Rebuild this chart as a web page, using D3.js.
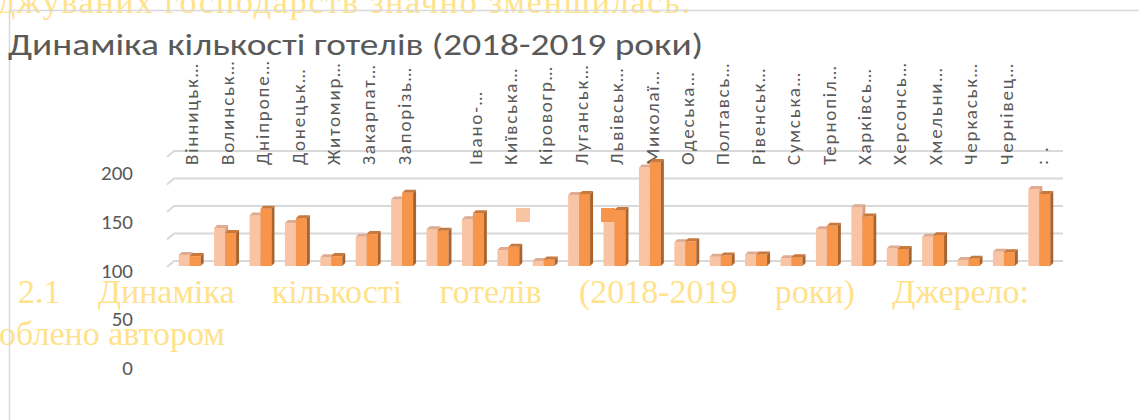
<!DOCTYPE html>
<meta charset="utf-8">
<style>
  body { margin: 0; background: #fff; }
  svg { display: block; }
  .word-text { font-family: "Liberation Serif", "Times New Roman", serif; fill: #ffe28a; }
  .chart-text { font-family: Carlito, "Open Sans", "Noto Sans", sans-serif; fill: #595959; }
</style>
<body></body>
<script src="https://cdn.jsdelivr.net/npm/d3@7"></script>
<script>

// regions (oblasts) in chart order
var categories = ["Вінницька", "Волинська", "Дніпропетровська", "Донецька", "Житомирська",
  "Закарпатська", "Запорізька", "Івано-Франківська", "Київська", "Кіровоградська",
  "Луганська", "Львівська", "Миколаївська", "Одеська", "Полтавська", "Рівненська",
  "Сумська", "Тернопільська", "Харківська", "Херсонська", "Хмельницька", "Черкаська",
  "Чернівецька", "Чернігівська", "м. Київ"];

// category labels as they show on the chart (truncated, one slot is empty)
var tickLabels = ["Вінницьк…", "Волинськ…", "Дніпропе…", "Донецьк…", "Житомир…",
  "Закарпат…", "Запорізь…", "", "Івано-…", "Київська…", "Кіровогр…", "Луганськ…",
  "Львівськ…", "Миколаї…", "Одеська…", "Полтавсь…", "Рівенськ…", "Сумська…",
  "Тернопіл…", "Харківсь…", "Херсонсь…", "Хмельни…", "Черкаськ…", "Чернівец…", ": ."];

var series = ["2018", "2019"];
var values2018 = [20, 69, 92, 78, 16, 53, 121, 67, 85, 29, 9, 129, 98, 179, 43, 17, 21, 14, 67, 107, 32, 53, 11, 26, 140];
var values2019 = [18, 60, 104, 87, 18, 58, 133, 64, 96, 35, 12, 131, 102, 189, 45, 19, 21, 16, 73, 90, 31, 56, 13, 25, 131];

var yTicks = [0, 50, 100, 150, 200];

var colors = {
  "2018": {front: "#f9c4a3", top: "#dfab91", side: "#d99c80"},
  "2019": {front: "#f7964a", top: "#c8793b", side: "#a9642e"}
};

var W = 1139, H = 420;

var svg = d3.select("body").append("svg")
    .attr("width", W)
    .attr("height", H);

// --- text of the document behind the chart ---
svg.append("text")
    .attr("class", "word-text")
    .attr("x", -2).attr("y", 13)
    .attr("font-size", 34)
    .attr("textLength", 692)
    .attr("lengthAdjust", "spacing")
    .text("джуваних господарств значно зменшилась.");

var captionWords = ["2.1", "Динаміка", "кількості", "готелів", "(2018-2019", "роки)", "Джерело:"];
var cap = svg.append("g").attr("class", "word-text").attr("font-size", 34);
var capNodes = cap.selectAll("text")
    .data(captionWords)
    .enter().append("text")
    .attr("y", 303)
    .text(function(d) { return d; });
var widths = capNodes.nodes().map(function(n) { return n.getComputedTextLength(); });
var lineStart = 18, lineEnd = 1029;
var gap = (lineEnd - lineStart - d3.sum(widths)) / (captionWords.length - 1);
var cx = lineStart;
capNodes.attr("x", function(d, i) {
  var x = cx;
  cx += widths[i] + gap;
  return x;
});

svg.append("text")
    .attr("class", "word-text")
    .attr("x", -1).attr("y", 345)
    .attr("font-size", 34)
    .text("облено автором");

// chart border (only top and left visible)
svg.append("path")
    .attr("d", "M9.5," + H + "V10.5H" + W)
    .attr("fill", "none")
    .attr("stroke", "#d9d9d9")
    .attr("stroke-width", 1.5);

// title
svg.append("text")
    .attr("class", "chart-text")
    .attr("x", 8).attr("y", 55)
    .attr("font-size", 31)
    .attr("textLength", 695)
    .attr("lengthAdjust", "spacingAndGlyphs")
    .text("Динаміка кількості готелів (2018-2019 роки)");

// --- scales ---
var x0 = d3.scaleBand()
    .domain(categories)
    .range([172, 1057])
    .paddingInner(0.38)
    .paddingOuter(0.19);

var x1 = d3.scaleBand()
    .domain(series)
    .range([0, x0.bandwidth()]);

// front faces of the columns
var y = d3.scaleLinear().domain([0, 200]).range([266, 156]);

// value labels of the axis (drawn off-step from the plot, as in the picture)
var yLab = d3.scaleLinear().domain([0, 200]).range([368, 173]);

var dx = 3, dy = 3;   // column depth
var wallY = 5;        // back wall offset

// gridlines on the back wall, with the side wall slant
svg.append("g").selectAll("path")
    .data(yTicks)
    .enter().append("path")
    .attr("fill", "none")
    .attr("stroke", "#d9d9d9")
    .attr("stroke-width", 2)
    .attr("d", function(d) {
      var yb = y(d) - wallY;
      return "M167," + (yb + 6) + "L174," + yb + "H1063";
    });

// y axis labels
var yAxis = d3.axisLeft(yLab).tickValues(yTicks).tickSize(0).tickPadding(0);
var ya = svg.append("g")
    .attr("transform", "translate(133,0)")
    .call(yAxis);
ya.select(".domain").remove();
ya.selectAll("text")
    .attr("class", "chart-text")
    .attr("font-size", 21)
    .attr("font-family", null);

// category labels, rotated
var xAxis = d3.axisTop(x0).tickSize(0).tickPadding(0)
    .tickFormat(function(d, i) { return tickLabels[i]; });
var xa = svg.append("g")
    .attr("transform", "translate(2,165)")
    .call(xAxis);
xa.select(".domain").remove();
xa.selectAll("text")
    .attr("class", "chart-text")
    .attr("font-family", null)
    .attr("font-size", 19)
    .attr("letter-spacing", 1.8)
    .attr("text-anchor", "start")
    .attr("transform", "rotate(-90)")
    .attr("x", 0)
    .attr("y", 0)
    .attr("dy", "0.35em");

// --- 3D columns ---
var rows = [];
categories.forEach(function(c, i) {
  rows.push({cat: c, s: "2018", v: values2018[i]});
  rows.push({cat: c, s: "2019", v: values2019[i]});
});

var bars = svg.append("g").selectAll("g.bar")
    .data(rows)
    .enter().append("g")
    .attr("class", "bar");

function bx(d) { return x0(d.cat) + x1(d.s); }
var bw = x1.bandwidth();
var base = y(0);

bars.append("rect")
    .attr("x", bx)
    .attr("y", function(d) { return y(d.v); })
    .attr("width", bw)
    .attr("height", function(d) { return base - y(d.v); })
    .attr("fill", function(d) { return colors[d.s].front; });

bars.append("path")
    .attr("fill", function(d) { return colors[d.s].top; })
    .attr("d", function(d) {
      var x = bx(d), t = y(d.v);
      return "M" + x + "," + t + "L" + (x + dx) + "," + (t - dy) +
        "H" + (x + bw + dx) + "L" + (x + bw) + "," + t + "Z";
    });

bars.append("path")
    .attr("fill", function(d) { return colors[d.s].side; })
    .attr("d", function(d) {
      var x = bx(d) + bw, t = y(d.v);
      return "M" + x + "," + t + "L" + (x + dx) + "," + (t - dy) +
        "V" + (base - dy) + "L" + x + "," + base + "Z";
    });

// legend keys (the legend text is not shown in the picture)
var legendX = [516, 601];
svg.append("g").selectAll("rect")
    .data(series)
    .enter().append("rect")
    .attr("x", function(d, i) { return legendX[i]; })
    .attr("y", 208)
    .attr("width", 14)
    .attr("height", 14)
    .attr("fill", function(d) { return colors[d].front; });

</script>
